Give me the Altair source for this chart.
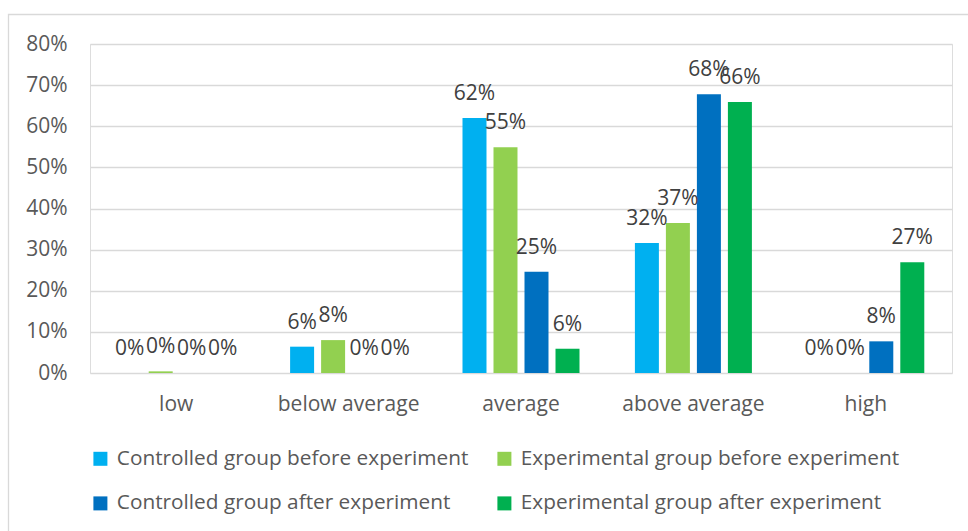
import altair as alt
import pandas as pd

categories = ["low", "below average", "average", "above average", "high"]
series = [
    "Controlled group before experiment",
    "Experimental group before experiment",
    "Controlled group after experiment",
    "Experimental group after experiment",
]
colors = ["#00B0F0", "#92D050", "#0070C0", "#00B050"]

controlled_before = [0.0, 0.064, 0.62, 0.316, 0.0]
experimental_before = [0.004, 0.08, 0.549, 0.365, 0.0]
controlled_after = [0.0, 0.0, 0.246, 0.678, 0.077]
experimental_after = [0.0, 0.0, 0.059, 0.659, 0.269]

values = [controlled_before, experimental_before, controlled_after, experimental_after]
rows = []
for s, vals in zip(series, values):
    for c, v in zip(categories, vals):
        rows.append({"category": c, "series": s, "value": v})
df = pd.DataFrame(rows)

FONT = "Open Sans"
FS = 21

base = alt.Chart(df).encode(
    x=alt.X("category:N", sort=categories,
            scale=alt.Scale(paddingInner=0.2807, paddingOuter=0.1404),
            axis=alt.Axis(title=None, labelAngle=0, ticks=False, domain=False,
                          labelFontSize=FS, labelFont=FONT, labelColor="#595959",
                          labelPadding=20)),
    xOffset=alt.XOffset("series:N", sort=series,
                        scale=alt.Scale(paddingInner=0.226, paddingOuter=0.113)),
    y=alt.Y("value:Q",
            scale=alt.Scale(domain=[0, 0.8], nice=False),
            axis=alt.Axis(title=None, format=".0%", values=[i / 10 for i in range(9)],
                          ticks=False, domain=False, gridColor="#d9d9d9", gridWidth=1.3,
                          labelFontSize=FS, labelFont=FONT, labelColor="#595959",
                          labelPadding=23)),
)

bars = base.mark_bar().encode(
    color=alt.Color("series:N", sort=series,
                    scale=alt.Scale(domain=series, range=colors),
                    legend=alt.Legend(title=None, orient="none", legendX=0, legendY=404,
                                      direction="horizontal", columns=2,
                                      symbolType="square", symbolSize=196,
                                      symbolStrokeWidth=0, labelFontSize=20.8,
                                      labelFont=FONT, labelColor="#595959",
                                      labelOffset=6, columnPadding=25, rowPadding=23,
                                      padding=0, labelLimit=500)),
)

labels = base.mark_text(baseline="alphabetic", dy=-18, fontSize=FS, font=FONT,
                        color="#404040").encode(
    text=alt.Text("value:Q", format=".0%"),
)

border = alt.Chart(alt.Data(values=[{"a": 1}])).mark_rect(
    fill=None, stroke="#d9d9d9", strokeWidth=1.3, clip=False
).encode(
    x=alt.value(-81.5), x2=alt.value(890), y=alt.value(-29.5), y2=alt.value(495)
)

chart = alt.layer(border, bars, labels).properties(
    width=862, height=329,
    autosize=alt.AutoSizeParams(type="none"),
    padding={"left": 90, "top": 44, "right": 16, "bottom": 158},
).configure_view(stroke=None).configure(background="white")

chart.save("out.html", embed_options={"renderer": "svg", "actions": False})
